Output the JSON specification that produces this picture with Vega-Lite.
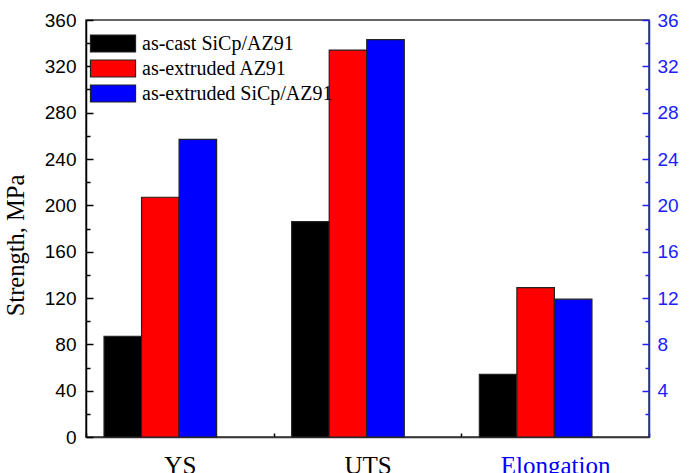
{
  "$schema": "https://vega.github.io/schema/vega-lite/v6.json",
  "autosize": "none",
  "width": 563,
  "height": 417,
  "padding": {"left": 86, "top": 20, "right": 45, "bottom": 36},
  "background": "white",
  "config": {
    "view": {"stroke": "#333333", "strokeWidth": 1.5},
    "font": "Liberation Sans"
  },
  "data": {
    "values": [
      {"cat": "YS", "series": "as-cast SiCp/AZ91", "value": 87},
      {"cat": "YS", "series": "as-extruded AZ91", "value": 207},
      {"cat": "YS", "series": "as-extruded SiCp/AZ91", "value": 257},
      {"cat": "UTS", "series": "as-cast SiCp/AZ91", "value": 186},
      {"cat": "UTS", "series": "as-extruded AZ91", "value": 334},
      {"cat": "UTS", "series": "as-extruded SiCp/AZ91", "value": 343},
      {"cat": "Elongation", "series": "as-cast SiCp/AZ91", "value": 5.4},
      {"cat": "Elongation", "series": "as-extruded AZ91", "value": 12.9},
      {"cat": "Elongation", "series": "as-extruded SiCp/AZ91", "value": 11.9}
    ]
  },
  "encoding": {
    "x": {
      "field": "cat",
      "type": "nominal",
      "sort": ["YS", "UTS", "Elongation"],
      "scale": {"domain": ["YS", "UTS", "Elongation"], "paddingInner": 0, "paddingOuter": 0},
      "axis": {
        "title": null,
        "labelAngle": 0,
        "labelFont": "Liberation Serif",
        "labelFontSize": 25,
        "labelColor": {"condition": {"test": "datum.value == 'Elongation'", "value": "#0000ff"}, "value": "black"},
        "labelPadding": 20,
        "tickBand": "extent",
        "tickSize": -4,
        "tickColor": "black",
        "tickWidth": 1.5,
        "domainColor": "#333333",
        "domainWidth": 1.5
      }
    },
    "xOffset": {
      "field": "series",
      "type": "nominal",
      "sort": ["as-cast SiCp/AZ91", "as-extruded AZ91", "as-extruded SiCp/AZ91"],
      "scale": {"paddingInner": 0, "paddingOuter": 1, "align": 0.24}
    },
    "color": {
      "field": "series",
      "type": "nominal",
      "sort": ["as-cast SiCp/AZ91", "as-extruded AZ91", "as-extruded SiCp/AZ91"],
      "scale": {"domain": ["as-cast SiCp/AZ91", "as-extruded AZ91", "as-extruded SiCp/AZ91"], "range": ["#000000", "#ff0000", "#0000ff"]},
      "legend": {
        "title": null,
        "orient": "none",
        "legendX": 14.5,
        "legendY": 11,
        "symbolType": "M-1.96,-0.74L1.96,-0.74L1.96,0.74L-1.96,0.74Z",
        "symbolSize": 529,
        "symbolStrokeColor": "#222222",
        "symbolStrokeWidth": 1.2,
        "symbolOpacity": 1,
        "labelFont": "Liberation Serif",
        "labelFontSize": 20,
        "labelColor": "black",
        "labelOffset": 16.5,
        "rowPadding": 1,
        "labelLimit": 300
      }
    }
  },
  "layer": [
    {
      "transform": [{"filter": "datum.cat != 'Elongation'"}],
      "mark": {"type": "bar", "stroke": "#222222", "strokeWidth": 1.2, "opacity": 1},
      "encoding": {
        "y": {
          "field": "value",
          "type": "quantitative",
          "scale": {"domain": [0, 360], "nice": false, "zero": true},
          "axis": {
            "title": "Strength, MPa",
            "titleFont": "Liberation Serif",
            "titleFontSize": 24.5,
            "titleFontWeight": "normal",
            "titleColor": "black",
            "titlePadding": 16,
            "titleY": 225,
            "values": [0, 20, 40, 60, 80, 100, 120, 140, 160, 180, 200, 220, 240, 260, 280, 300, 320, 340, 360],
            "labelExpr": "datum.value % 40 == 0 ? datum.label : ''",
            "labelFontSize": 19,
            "labelColor": "black",
            "labelPadding": 17,
            "tickSize": {"condition": {"test": "datum.value % 40 == 0", "value": -7}, "value": -4},
            "tickColor": "black",
            "tickWidth": 1.5,
            "domainColor": "black",
            "domainWidth": 1.5,
            "grid": false
          }
        }
      }
    },
    {
      "transform": [{"filter": "datum.cat == 'Elongation'"}],
      "mark": {"type": "bar", "stroke": "#222222", "strokeWidth": 1.2, "opacity": 1},
      "encoding": {
        "y": {
          "field": "value",
          "type": "quantitative",
          "scale": {"domain": [0, 36], "nice": false, "zero": true},
          "axis": {
            "orient": "right",
            "title": null,
            "values": [2, 4, 6, 8, 10, 12, 14, 16, 18, 20, 22, 24, 26, 28, 30, 32, 34, 36],
            "labelExpr": "datum.value % 4 == 0 ? datum.label : ''",
            "labelFontSize": 19,
            "labelColor": "#2020ff",
            "labelPadding": 15,
            "tickSize": {"condition": {"test": "datum.value % 4 == 0", "value": -7}, "value": -4},
            "tickColor": "#2020ff",
            "tickWidth": 1.5,
            "domainColor": "#2020ff",
            "domainWidth": 1.5,
            "grid": false
          }
        }
      }
    }
  ],
  "resolve": {"scale": {"y": "independent"}}
}
